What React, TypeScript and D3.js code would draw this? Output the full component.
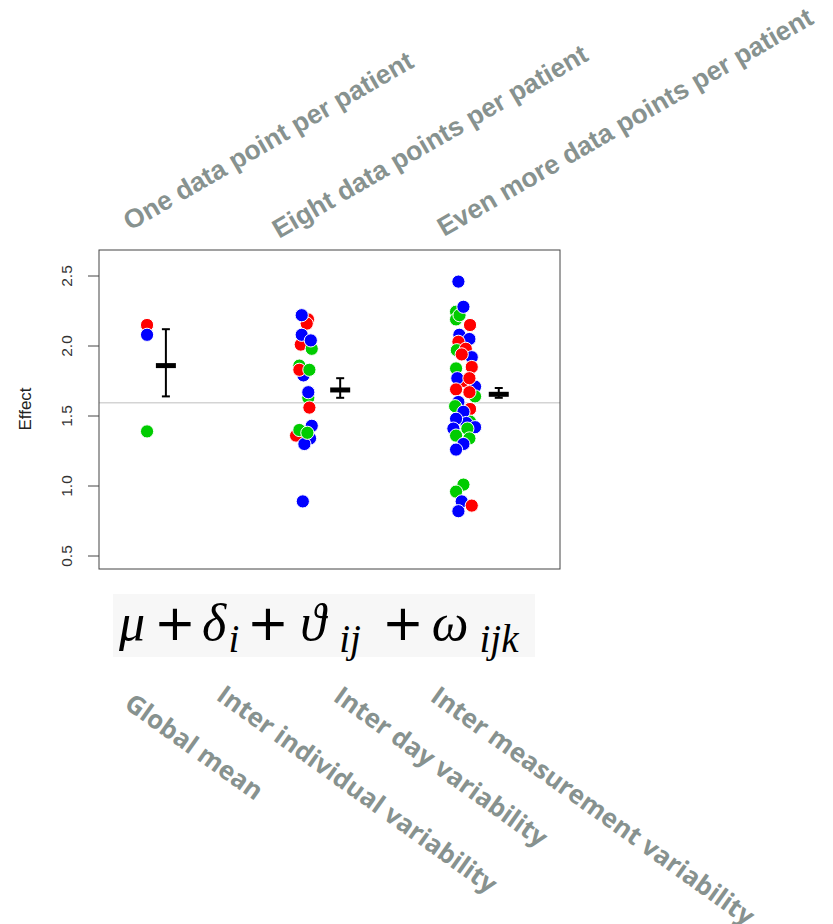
import React from "react";
import * as d3 from "d3";

// ---------- data ----------
const groupTitles = [
  "One data point per patient",
  "Eight data points per patient",
  "Even more data points per patient",
];
const termLabels = [
  "Global mean",
  "Inter individual variability",
  "Inter day variability",
  "Inter measurement variability",
];
const yTicks = [0.5, 1.0, 1.5, 2.0, 2.5];
const referenceValue = 1.595;

// patient colours
const patientColors = ["#ff0000", "#0000ff", "#00cc00"];

// [value, patient index, jitter (category units)]
const group1: [number, number, number][] = [
  [2.15, 0, 0],
  [2.08, 1, 0],
  [1.39, 2, 0],
];
const group2: [number, number, number][] = [
  [2.19, 0, 0.025],
  [2.16, 0, 0.017],
  [2.22, 1, -0.015],
  [2.01, 0, -0.021],
  [1.98, 2, 0.049],
  [2.08, 1, -0.015],
  [2.04, 1, 0.043],
  [1.79, 1, -0.004],
  [1.86, 2, -0.03],
  [1.83, 0, -0.03],
  [1.83, 2, 0.034],
  [1.63, 2, 0.027],
  [1.67, 1, 0.027],
  [1.56, 0, 0.034],
  [1.36, 0, -0.051],
  [1.43, 1, 0.049],
  [1.34, 1, 0.038],
  [1.3, 1, 0.002],
  [1.4, 2, -0.03],
  [1.38, 2, 0.021],
  [0.89, 1, -0.008],
];
const group3: [number, number, number][] = [
  [2.46, 1, -0.017],
  [2.245, 2, -0.032],
  [2.19, 2, -0.032],
  [2.22, 2, -0.01],
  [2.28, 1, 0.015],
  [2.15, 0, 0.057],
  [2.08, 1, -0.011],
  [2.05, 1, 0.053],
  [2.03, 0, -0.017],
  [1.97, 2, -0.027],
  [1.98, 0, 0.03],
  [1.92, 1, 0.068],
  [1.94, 0, 0.004],
  [1.84, 2, -0.032],
  [1.85, 0, 0.068],
  [1.75, 0, 0.013],
  [1.77, 1, -0.024],
  [1.71, 1, 0.089],
  [1.77, 0, 0.053],
  [1.69, 0, -0.032],
  [1.64, 2, 0.089],
  [1.67, 0, 0.053],
  [1.6, 1, -0.017],
  [1.57, 2, -0.038],
  [1.55, 0, 0.057],
  [1.46, 2, 0.057],
  [1.53, 1, 0.015],
  [1.45, 1, 0.034],
  [1.48, 1, -0.032],
  [1.42, 1, 0.089],
  [1.41, 1, -0.049],
  [1.41, 2, 0.04],
  [1.36, 2, -0.032],
  [1.34, 2, 0.053],
  [1.3, 1, 0.015],
  [1.26, 1, -0.032],
  [1.01, 2, 0.015],
  [0.96, 2, -0.032],
  [0.89, 1, 0.004],
  [0.82, 1, -0.017],
  [0.86, 0, 0.068],
];
const groups = [group1, group2, group3];

// summary per group: [mean, lower, upper]
const means = [1.86, 1.686, 1.655];
const lowers = [1.64, 1.63, 1.63];
const uppers = [2.12, 1.77, 1.70];
const summaryOffset = [0.12, 0.23, 0.24];

// ---------- layout ----------
const W = 833;
const H = 924;
const plot = { left: 99, right: 560, top: 250, bottom: 569 };

const TEXT_GRAY = "#87928f";

export default function App() {
  const x = d3.scaleLinear().domain([0.694, 3.63]).range([plot.left, plot.right]);
  const y = d3.scaleLinear().domain([2.0, 2.5]).range([346, 276]);

  const titlePos = [
    [130, 231],
    [279, 239],
    [444, 237],
  ];
  const labelPos = [
    [123, 707],
    [215, 699],
    [332, 700],
    [429, 700],
  ];

  return (
    <svg
      width={W}
      height={H}
      style={{ position: "absolute", left: 0, top: 0, background: "#fff" }}
    >
      {/* titles */}
      {groupTitles.map((t, i) => (
        <text
          key={t}
          x={titlePos[i][0]}
          y={titlePos[i][1]}
          transform={`rotate(-30 ${titlePos[i][0]} ${titlePos[i][1]})`}
          fontFamily="'Liberation Sans', Arial, sans-serif"
          fontWeight={700}
          fontSize={26.6}
          fill={TEXT_GRAY}
        >
          {t}
        </text>
      ))}

      {/* reference line */}
      <line
        x1={plot.left}
        x2={plot.right}
        y1={y(referenceValue)}
        y2={y(referenceValue)}
        stroke="#d4d4d4"
        strokeWidth={1.5}
      />

      {/* points */}
      {groups.map((g, gi) =>
        g.map(([v, p, j], k) => (
          <circle
            key={`${gi}-${k}`}
            cx={x(gi + 1 + j)}
            cy={y(v)}
            r={6.6}
            fill={patientColors[p]}
            stroke="#fff"
            strokeWidth={1}
          />
        ))
      )}

      {/* error bars */}
      {means.map((m, i) => {
        const cx = x(i + 1 + summaryOffset[i]);
        return (
          <g key={i} stroke="#000">
            <line x1={cx} x2={cx} y1={y(uppers[i])} y2={y(lowers[i])} strokeWidth={2} />
            <line x1={cx - 4} x2={cx + 4} y1={y(uppers[i])} y2={y(uppers[i])} strokeWidth={2} />
            <line x1={cx - 4} x2={cx + 4} y1={y(lowers[i])} y2={y(lowers[i])} strokeWidth={2} />
            <line x1={cx - 10} x2={cx + 10} y1={y(m)} y2={y(m)} strokeWidth={5} />
          </g>
        );
      })}

      {/* plot frame */}
      <rect
        x={plot.left}
        y={plot.top}
        width={plot.right - plot.left}
        height={plot.bottom - plot.top}
        fill="none"
        stroke="#444"
        strokeWidth={1}
      />

      {/* y axis */}
      {yTicks.map((t) => (
        <g key={t}>
          <line x1={plot.left - 11} x2={plot.left} y1={y(t)} y2={y(t)} stroke="#444" strokeWidth={1} />
          <text
            x={0}
            y={0}
            transform={`translate(${72}, ${y(t)}) rotate(-90)`}
            textAnchor="middle"
            fontFamily="'Liberation Sans', Arial, sans-serif"
            fontSize={15.5}
            fill="#333"
          >
            {t.toFixed(1)}
          </text>
        </g>
      ))}
      <text
        transform={`translate(31, 409) rotate(-90)`}
        textAnchor="middle"
        fontFamily="'Liberation Sans', Arial, sans-serif"
        fontSize={17}
        fill="#222"
      >
        Effect
      </text>

      {/* formula */}
      <rect x={113} y={594} width={422} height={63} fill="#f7f7f7" />
      <g fontFamily="'Liberation Serif', 'DejaVu Serif', serif" fill="#000">
        <text x={132} y={640} textAnchor="middle" fontStyle="italic" fontSize={52}>μ</text>
        <text x={175} y={640} textAnchor="middle" fontFamily="'DejaVu Sans', sans-serif" fontSize={50}>+</text>
        <text x={214} y={640} textAnchor="middle" fontStyle="italic" fontSize={52}>δ</text>
        <text x={234} y={652} textAnchor="middle" fontStyle="italic" fontSize={39}>i</text>
        <text x={268} y={640} textAnchor="middle" fontFamily="'DejaVu Sans', sans-serif" fontSize={50}>+</text>
        <text x={313} y={640} textAnchor="middle" fontStyle="italic" fontSize={52}>ϑ</text>
        <text x={350} y={652} textAnchor="middle" fontStyle="italic" fontSize={39}>ij</text>
        <text x={403} y={640} textAnchor="middle" fontFamily="'DejaVu Sans', sans-serif" fontSize={50}>+</text>
        <text x={450} y={640} textAnchor="middle" fontStyle="italic" fontSize={52}>ω</text>
        <text x={499} y={652} textAnchor="middle" fontStyle="italic" fontSize={39}>ijk</text>
      </g>

      {/* term labels */}
      {termLabels.map((t, i) => (
        <text
          key={t}
          x={labelPos[i][0]}
          y={labelPos[i][1]}
          transform={`rotate(35.5 ${labelPos[i][0]} ${labelPos[i][1]})`}
          fontFamily="'Open Sans', sans-serif"
          fontWeight={700}
          fontSize={25.8}
          fill={TEXT_GRAY}
        >
          {t}
        </text>
      ))}
    </svg>
  );
}
